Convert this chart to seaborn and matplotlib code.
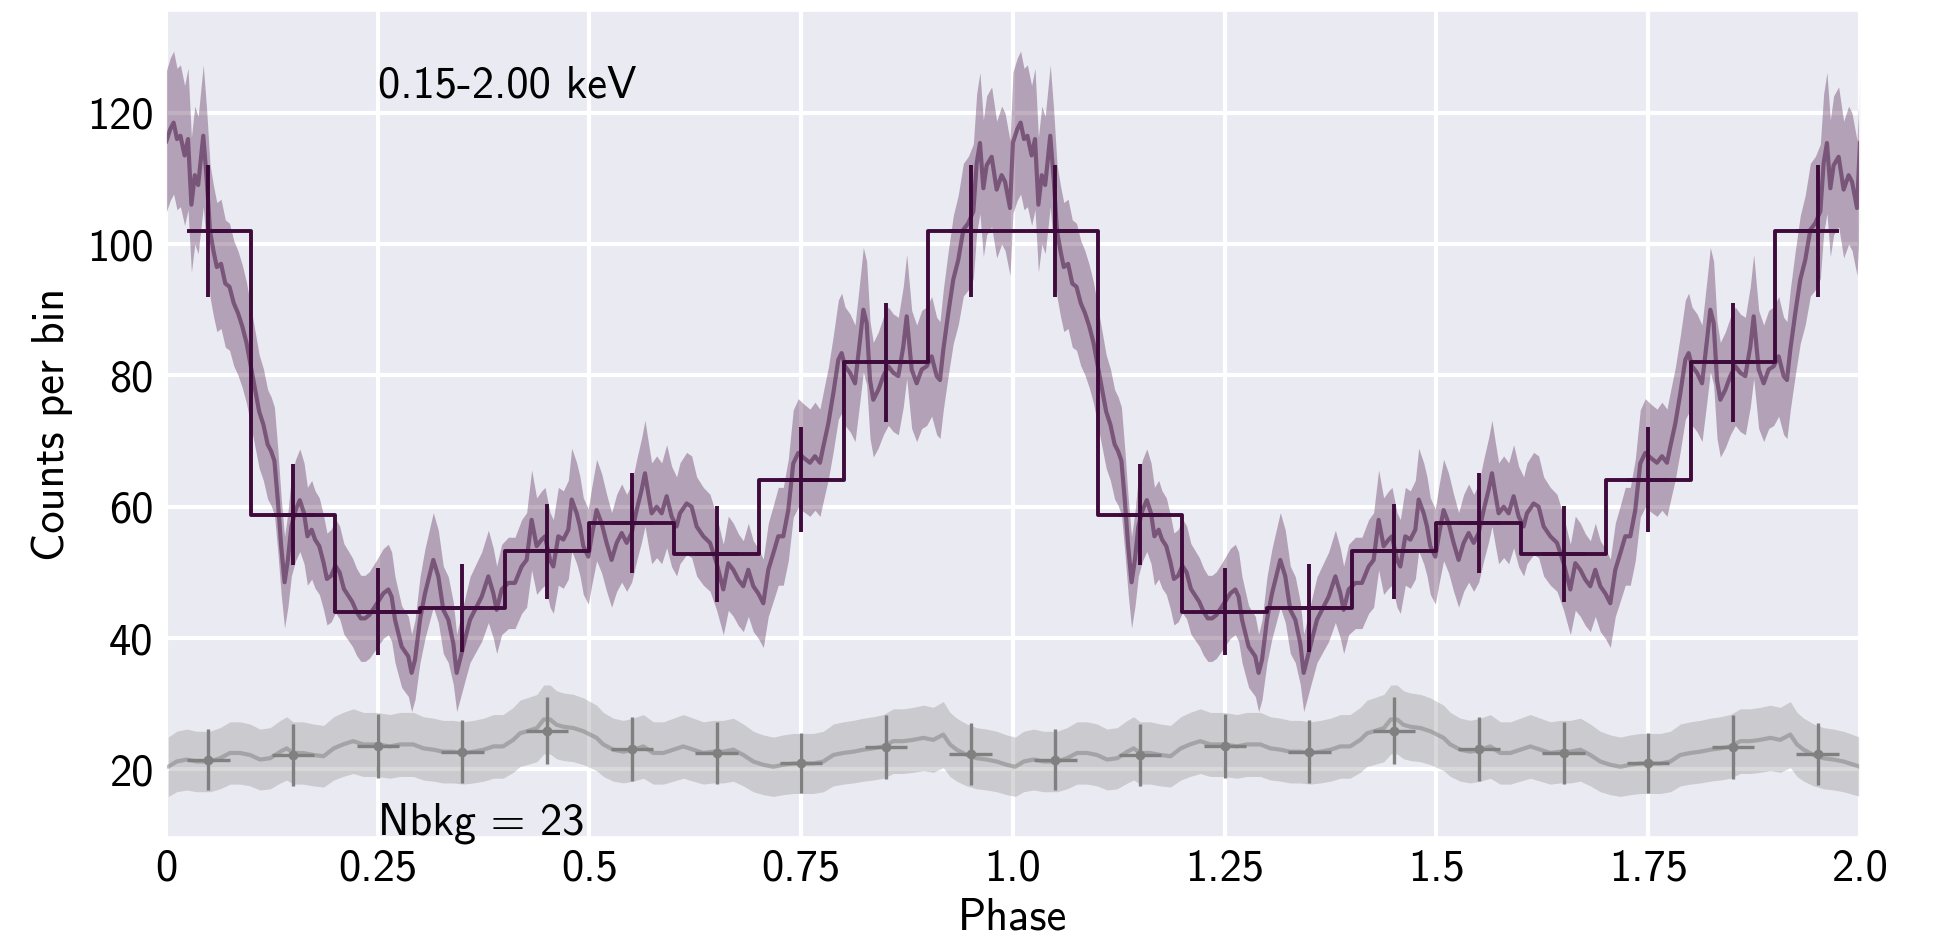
import numpy as np
import matplotlib
matplotlib.use("Agg")
import matplotlib.pyplot as plt
import seaborn as sns

# ---- folded light curve, one cycle (phase, counts per bin) ----
curve_phase = [
    0.000, 0.005, 0.009, 0.013, 0.017, 0.022, 0.026, 0.030, 0.034, 0.038,
    0.044, 0.048, 0.052, 0.056, 0.060, 0.065, 0.070, 0.075, 0.080, 0.085,
    0.090, 0.095, 0.100, 0.105, 0.110, 0.115, 0.120, 0.124, 0.128, 0.132,
    0.136, 0.140, 0.144, 0.148, 0.153, 0.158, 0.163, 0.167, 0.172, 0.176,
    0.181, 0.186, 0.190, 0.195, 0.200, 0.205, 0.210, 0.215, 0.220, 0.225,
    0.230, 0.235, 0.240, 0.2468, 0.2566, 0.2625, 0.2664, 0.2704, 0.2782, 0.2861,
    0.2900, 0.2940, 0.2999, 0.3058, 0.3117, 0.3156, 0.3215, 0.3274, 0.3333, 0.3392,
    0.3432, 0.3471, 0.3530, 0.3589, 0.3648, 0.3727, 0.3806, 0.3865, 0.3904, 0.3963,
    0.4042, 0.4120, 0.4199, 0.4258, 0.4317, 0.4376, 0.4435, 0.4475, 0.4534, 0.4573,
    0.4632, 0.4691, 0.4750, 0.4790, 0.4849, 0.4888, 0.4927, 0.4986, 0.5026, 0.5084,
    0.5143, 0.5202, 0.5261, 0.5321, 0.5380, 0.5439, 0.5498, 0.5557, 0.5616, 0.5655,
    0.5694, 0.5734, 0.5793, 0.5852, 0.5911, 0.5970, 0.6029, 0.6068, 0.6147, 0.6206,
    0.6265, 0.6344, 0.6423, 0.6501, 0.6580, 0.6639, 0.6698, 0.6757, 0.6816, 0.6875,
    0.6934, 0.6993, 0.7052, 0.7111, 0.7170, 0.7229, 0.7288, 0.7347, 0.7406, 0.7465,
    0.7524, 0.7603, 0.7662, 0.7721, 0.7761, 0.7820, 0.7879, 0.7938, 0.7977, 0.8017,
    0.8076, 0.8135, 0.8194, 0.8233, 0.8272, 0.8312, 0.8351, 0.8410, 0.8469, 0.8528,
    0.8587, 0.8646, 0.8705, 0.8745, 0.8804, 0.8863, 0.8922, 0.8981, 0.9040, 0.9099,
    0.9138, 0.9177, 0.9236, 0.9295, 0.9354, 0.9414, 0.9473, 0.9532, 0.9571, 0.9610,
    0.9650, 0.9689, 0.9748, 0.9807, 0.9866, 0.9906, 0.9965,
]
curve_counts = [
    115.5, 117.5, 118.5, 116.0, 116.5, 113.5, 116.0, 106.0, 110.5, 109.0,
    116.5, 110.0, 102.0, 99.0, 96.5, 97.0, 94.0, 93.5, 91.0, 89.5,
    87.5, 85.0, 81.5, 78.0, 74.5, 72.5, 69.5, 68.5, 67.0, 61.0,
    54.0, 48.5, 52.0, 57.0, 59.5, 61.0, 59.0, 55.5, 56.5, 55.0,
    54.0, 51.5, 49.0, 49.5, 51.0, 50.0, 47.5, 46.5, 45.5, 44.0,
    43.0, 43.0, 43.5, 44.8, 46.8, 47.4, 46.3, 42.8, 38.7, 37.2,
    34.7, 36.7, 42.8, 46.8, 49.9, 51.9, 49.4, 44.3, 42.8, 39.2,
    34.7, 36.7, 39.8, 42.8, 44.3, 46.3, 49.4, 46.8, 44.3, 47.4,
    48.4, 48.4, 50.9, 51.9, 58.0, 54.0, 55.0, 55.5, 51.9, 50.9,
    55.5, 55.0, 56.5, 61.1, 59.0, 57.0, 54.0, 52.4, 55.5, 59.5,
    57.5, 54.5, 51.9, 54.5, 56.0, 54.5, 56.0, 59.5, 62.6, 65.1,
    62.0, 59.0, 60.0, 59.0, 61.6, 58.5, 57.0, 59.0, 60.5, 60.0,
    57.0, 55.5, 54.5, 51.4, 47.4, 51.4, 50.4, 48.9, 47.9, 50.4,
    47.9, 46.8, 45.3, 50.4, 52.9, 55.5, 55.5, 59.5, 66.6, 68.2,
    67.5, 66.7, 67.7, 66.7, 69.2, 72.7, 77.3, 82.4, 83.4, 81.4,
    80.4, 78.8, 85.4, 90.0, 88.0, 79.3, 76.3, 77.8, 79.9, 81.4,
    80.4, 79.9, 84.4, 89.0, 80.9, 78.8, 80.9, 81.4, 82.9, 79.9,
    79.3, 83.9, 89.5, 94.6, 97.6, 102.2, 103.2, 105.0, 112.3, 115.4,
    108.5, 112.0, 113.3, 108.3, 110.5, 109.5, 105.5,
]

# ---- background light curve, one cycle ----
bkg_phase = [
    0.0027, 0.0126, 0.0244, 0.0362, 0.0519, 0.0638, 0.0756, 0.0873, 0.0992, 0.111,
    0.123, 0.135, 0.1425, 0.150, 0.162, 0.174, 0.186, 0.198, 0.209, 0.221,
    0.233, 0.249, 0.2645, 0.276, 0.292, 0.304, 0.316, 0.327, 0.339, 0.351,
    0.363, 0.375, 0.3865, 0.398, 0.410, 0.418, 0.426, 0.438, 0.446, 0.4535,
    0.461, 0.469, 0.481, 0.493, 0.5006, 0.5084, 0.5163, 0.5281, 0.5399, 0.5517,
    0.5635, 0.5754, 0.5872, 0.5990, 0.6108, 0.6226, 0.6344, 0.6462, 0.6580, 0.6698,
    0.6816, 0.6934, 0.7052, 0.7170, 0.7288, 0.7406, 0.7524, 0.7643, 0.7761, 0.7879,
    0.7997, 0.8115, 0.8233, 0.8351, 0.8469, 0.8587, 0.8705, 0.8823, 0.8941, 0.9059,
    0.9177, 0.9256, 0.9335, 0.9453, 0.9571, 0.9689, 0.9807, 0.9925,
]
bkg_counts = [
    20.4, 21.2, 21.5, 21.2, 21.2, 21.7, 22.5, 22.5, 22.2, 21.5,
    21.7, 22.7, 23.2, 22.5, 22.5, 22.2, 22.0, 23.2, 23.8, 24.3,
    23.8, 23.8, 23.5, 23.8, 23.8, 23.2, 23.0, 22.7, 22.7, 22.5,
    22.7, 23.0, 23.5, 23.5, 24.5, 25.5, 25.8, 26.3, 27.6, 27.6,
    26.8, 26.5, 26.3, 25.8, 25.3, 24.8, 23.8, 23.0, 22.7, 23.0,
    23.5, 22.5, 22.5, 23.0, 23.5, 23.0, 22.5, 22.7, 22.7, 23.0,
    22.2, 21.2, 20.7, 20.4, 20.7, 20.9, 20.9, 20.9, 21.2, 22.2,
    22.5, 22.7, 23.0, 23.2, 23.5, 24.3, 24.3, 24.5, 24.8, 24.5,
    25.3, 23.8, 23.0, 22.2, 21.7, 21.5, 21.2, 20.7,
]

# ---- 10-bin profiles (source and background) ----
bin_centers = [0.05, 0.15, 0.25, 0.35, 0.45, 0.55, 0.65, 0.75, 0.85, 0.95]
src_bins = [102.0, 58.8, 44.0, 44.6, 53.2, 57.5, 52.8, 64.1, 82.0, 102.0]
bkg_bins = [21.5, 22.2, 23.6, 22.7, 25.9, 23.1, 22.5, 20.9, 23.4, 22.3]

xtick_pos = [0, 0.25, 0.5, 0.75, 1.0, 1.25, 1.5, 1.75, 2.0]
xtick_labels = ["0", "0.25", "0.5", "0.75", "1.0", "1.25", "1.5", "1.75", "2.0"]
ytick_pos = [20, 40, 60, 80, 100, 120]

band_label = "0.15-2.00 keV"
bkg_label = "Nbkg = 23"

SRC = "#3f0a3c"
BKG = "grey"


def two_cycles(phase, values):
    phase = np.asarray(phase, float)
    values = np.asarray(values, float)
    x = np.concatenate([phase, phase + 1.0, [2.0]])
    y = np.concatenate([values, values, values[:1]])
    return x, y


sns.set_theme(style="darkgrid", rc={"grid.linewidth": 3.0})
plt.rcParams["font.family"] = ["cmss10", "DejaVu Sans"]
plt.rcParams["axes.unicode_minus"] = False
plt.rcParams["mathtext.fontset"] = "cm"
for key in ("text.color", "axes.labelcolor", "xtick.color", "ytick.color"):
    plt.rcParams[key] = "black"

fig = plt.figure(figsize=(19.46, 9.41), dpi=100)
ax = fig.add_axes([0.0853, 0.1105, 0.9558 - 0.0853, 0.9883 - 0.1105])

# background: running curve with Poisson band, binned points
bx, by = two_cycles(bkg_phase, bkg_counts)
be = np.sqrt(by)
ax.fill_between(bx, by - be, by + be, color=BKG, alpha=0.3, lw=0)
sns.lineplot(x=bx, y=by, ax=ax, color=BKG, alpha=0.5, lw=3.0, sort=False,
             estimator=None)

cx, cy = two_cycles(bin_centers, bkg_bins)
cx, cy = cx[:-1], cy[:-1]
ax.errorbar(cx, cy, xerr=0.025, yerr=np.sqrt(cy), fmt="o", ms=6,
            color=BKG, ecolor=BKG, elinewidth=2.4, capsize=0)

# source: running curve with Poisson band
sx, sy = two_cycles(curve_phase, curve_counts)
se = np.sqrt(sy)
ax.fill_between(sx, sy - se, sy + se, color=SRC, alpha=0.32, lw=0)
sns.lineplot(x=sx, y=sy, ax=ax, color=SRC, alpha=0.5, lw=3.0, sort=False,
             estimator=None)

# source: 10-bin step profile with errors
px, py = two_cycles(bin_centers, src_bins)
px, py = px[:-1], py[:-1]
ax.step(px, py, where="mid", color=SRC, lw=2.8)
ax.errorbar(px, py, xerr=0.025, yerr=np.sqrt(py), fmt="none",
            ecolor=SRC, elinewidth=2.8, capsize=0)

ax.text(0.25, 122.4, band_label, fontsize=32, va="baseline", ha="left")
ax.text(0.25, 10.05, bkg_label, fontsize=32, va="baseline", ha="left")

ax.set_xlim(0, 2.0)
ax.set_ylim(9.7, 135.5)
ax.set_xticks(xtick_pos)
ax.set_xticklabels(xtick_labels)
ax.set_yticks(ytick_pos)
ax.tick_params(axis="both", labelsize=32, length=0)
ax.tick_params(axis="x", pad=8)
ax.tick_params(axis="y", pad=9)
ax.set_xlabel("Phase", fontsize=32, labelpad=6)
ax.set_ylabel("Counts per bin", fontsize=32, labelpad=10)

fig.savefig("out.png", dpi=100)
